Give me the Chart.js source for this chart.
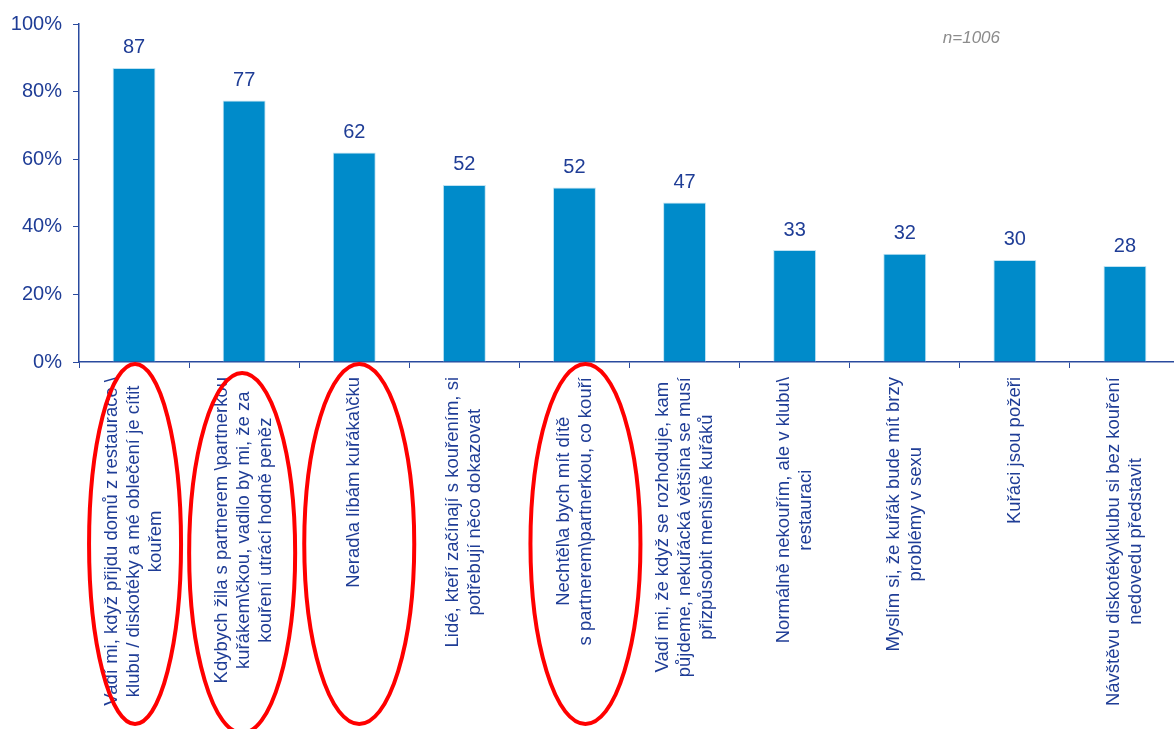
<!DOCTYPE html>
<html lang="cs">
<head>
<meta charset="UTF-8">
<title>Postoje ke kouření</title>
<script src="https://cdn.jsdelivr.net/npm/chart.js@4.4.0/dist/chart.umd.min.js"></script>
<style>
    html, body { margin: 0; padding: 0; overflow: hidden; background: #fff; }
    .graph-container { position: relative; width: 1180px; height: 729px; }
</style>
</head>
<body>
<div class="graph-container">
    <canvas id="myChart"></canvas>
</div>
<script>
// kategorie (řádky popisků)
const categories = [
    ["Vadí mi, když přijdu domů z restaurace \\", "klubu / diskotéky a mé oblečení je cítit", "kouřem"],
    ["Kdybych žila s partnerem \\partnerkou", "kuřákem\\čkou, vadilo by mi, že za", "kouření utrácí hodně peněz"],
    ["Nerad\\a líbám kuřáka\\čku"],
    ["Lidé, kteří začínají s kouřením, si", "potřebují něco dokazovat"],
    ["Nechtěl\\a bych mít dítě", "s partnerem\\partnerkou, co kouří"],
    ["Vadí mi, že když se rozhoduje, kam", "půjdeme, nekuřácká většina se musí", "přizpůsobit menšině kuřáků"],
    ["Normálně nekouřím, ale v klubu\\", "restauraci"],
    ["Myslím si, že kuřák bude mít brzy", "problémy v sexu"],
    ["Kuřáci jsou požeři"],
    ["Návštěvu diskotéky\\klubu si bez kouření", "nedovedu představit"]
];
const values = [87, 77.4, 62, 52.4, 51.6, 47.2, 33.1, 32, 30.2, 28.4];
const yTicks = [0, 20, 40, 60, 80, 100];
const sampleNote = "n=1006";
const circledIndexes = [0, 1, 2, 4];

const textBlue = '#1f3d96';
const axisBlue = '#2a4a9e';

var ctx = document.getElementById('myChart').getContext('2d');

// popisky os x: otočené, řádky na střed, blok zarovnaný k ose
const xLabelPlugin = {
    id: 'xLabels',
    afterDraw(chart) {
        const c = chart.ctx;
        const xs = chart.scales.x;
        const top = chart.chartArea.bottom + 15;
        const lh = 22;
        c.save();
        c.font = '18.5px "Liberation Sans", Arial, sans-serif';
        c.fillStyle = textBlue;
        c.textAlign = 'center';
        c.textBaseline = 'middle';
        categories.forEach((lines, i) => {
            const x = xs.getPixelForValue(i);
            let maxW = 0;
            lines.forEach(l => { maxW = Math.max(maxW, c.measureText(l).width); });
            c.save();
            c.translate(x, top + maxW / 2);
            c.rotate(-Math.PI / 2);
            lines.forEach((l, j) => {
                c.fillText(l, 0, (j - (lines.length - 1) / 2) * lh);
            });
            c.restore();
        });
        c.restore();
    }
};

// hodnoty nad sloupci + poznámka n=
const valuePlugin = {
    id: 'values',
    afterDatasetsDraw(chart) {
        const c = chart.ctx;
        const meta = chart.getDatasetMeta(0);
        c.save();
        c.font = '20px "Liberation Sans", Arial, sans-serif';
        c.fillStyle = textBlue;
        c.textAlign = 'center';
        c.textBaseline = 'bottom';
        meta.data.forEach((bar, i) => {
            c.fillText(String(Math.round(values[i])), bar.x, bar.y - 10);
        });
        c.font = 'italic 17px "Liberation Sans", Arial, sans-serif';
        c.fillStyle = '#8c8c8c';
        c.textAlign = 'left';
        c.textBaseline = 'middle';
        c.fillText(sampleNote, chart.scales.x.getPixelForValue(7.5) - 17, 38);
        c.restore();
    }
};

// červené elipsy kolem vybraných popisků
const ellipsePlugin = {
    id: 'ellipses',
    afterDraw(chart) {
        const c = chart.ctx;
        const xs = chart.scales.x;
        const base = chart.chartArea.bottom;
        const shape = {0: [1, 46, 0], 1: [-2, 53, 9], 2: [5, 55, 0], 4: [11, 55, 0]};
        c.save();
        c.strokeStyle = '#ff0000';
        c.lineWidth = 4;
        circledIndexes.forEach(i => {
            const [dx, rx, dy] = shape[i];
            c.beginPath();
            c.ellipse(xs.getPixelForValue(i) + dx, base + 2 + dy + 180, rx, 180, 0, 0, Math.PI * 2);
            c.stroke();
        });
        c.restore();
    }
};

var chart = new Chart(ctx, {
    type: 'bar',
    data: {
        labels: categories,
        datasets: [{
            data: values,
            backgroundColor: '#008bca',
            borderColor: '#bfe2f2',
            borderWidth: 1,
            barPercentage: 0.39,
            categoryPercentage: 1.0
        }]
    },
    options: {
        responsive: true,
        maintainAspectRatio: false,
        animation: false,
        layout: { padding: { top: 24, right: 0, bottom: 0, left: 0 } },
        plugins: {
            legend: { display: false },
            tooltip: { enabled: false }
        },
        scales: {
            x: {
                offset: true,
                ticks: { display: false },
                grid: {
                    offset: true,
                    drawOnChartArea: false,
                    drawTicks: true,
                    tickLength: 6,
                    color: axisBlue
                },
                border: { color: axisBlue, width: 1.5 },
                afterFit: function (scale) { scale.height = 367; }
            },
            y: {
                min: 0,
                max: 100,
                afterBuildTicks: function (scale) {
                    scale.ticks = yTicks.map(v => ({ value: v }));
                },
                ticks: {
                    padding: 11,
                    color: textBlue,
                    font: { family: '"Liberation Sans", Arial, sans-serif', size: 20 },
                    callback: v => v + '%'
                },
                grid: {
                    drawOnChartArea: false,
                    drawTicks: true,
                    tickLength: 6,
                    color: axisBlue
                },
                border: { color: axisBlue, width: 1.5 },
                afterFit: function (scale) { scale.width = 79; }
            }
        }
    },
    plugins: [xLabelPlugin, valuePlugin, ellipsePlugin]
});
</script>
</body>
</html>
